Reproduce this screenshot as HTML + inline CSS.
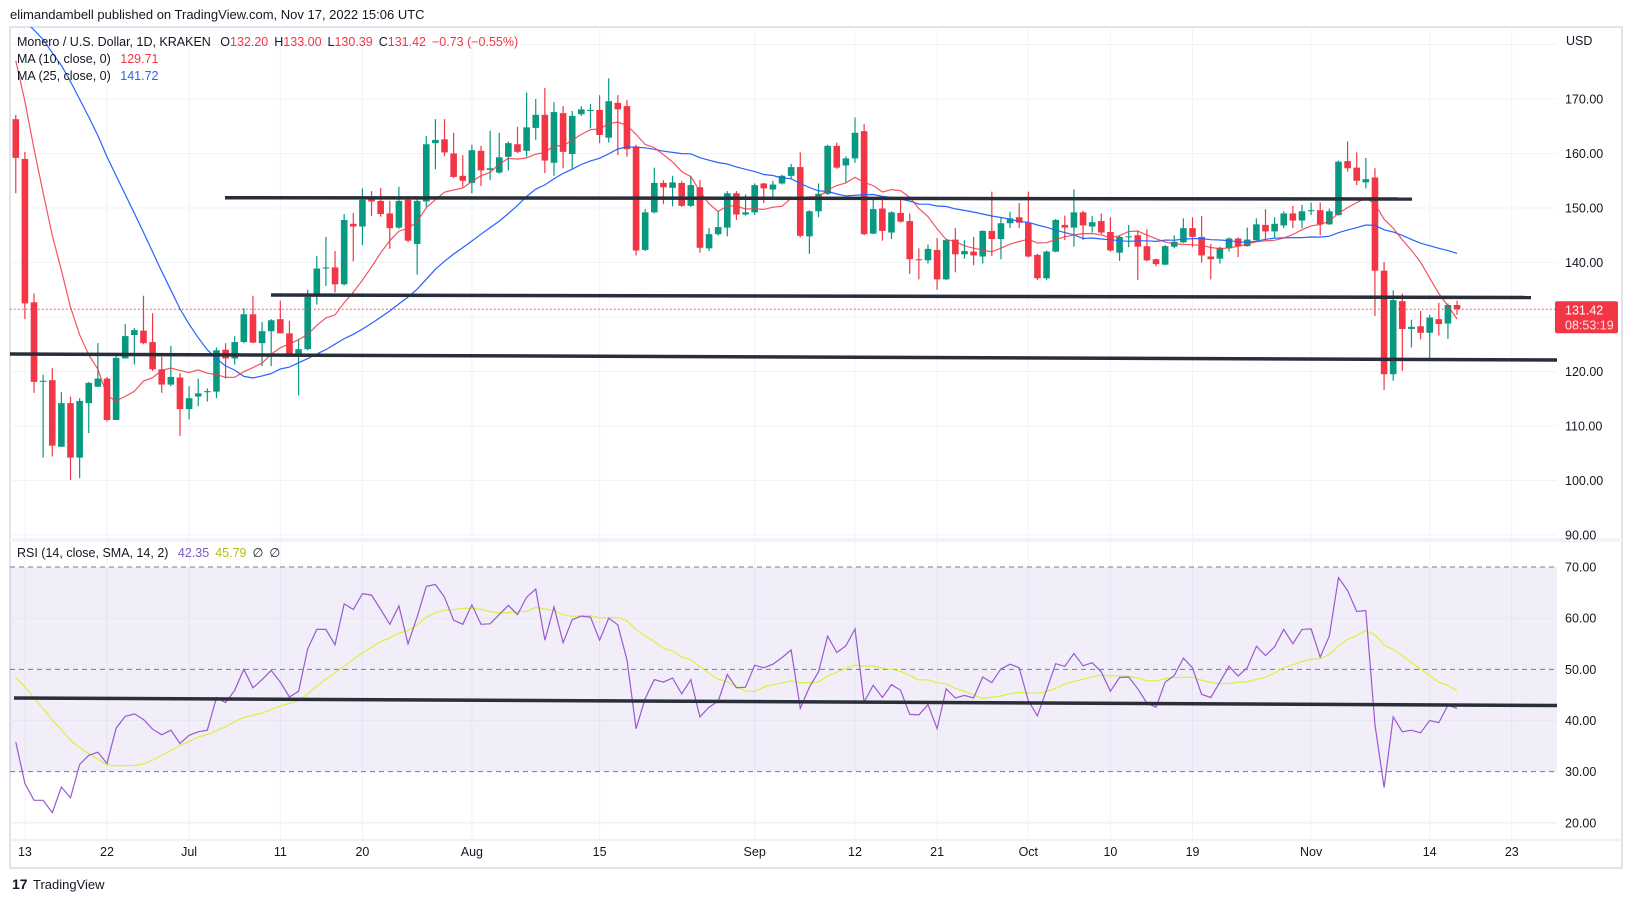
<!DOCTYPE html>
<html><head><meta charset="utf-8">
<style>
html,body{margin:0;padding:0;background:#fff;}
svg{display:block;font-family:"Liberation Sans",Arial,sans-serif;}
</style></head>
<body>
<svg id="chart" width="1633" height="901" viewBox="0 0 1633 901" xmlns="http://www.w3.org/2000/svg">
<defs>
<clipPath id="pricePane"><rect x="10" y="27" width="1547" height="514"/></clipPath>
<clipPath id="rsiPane"><rect x="10" y="541" width="1547" height="299"/></clipPath>
</defs>
<rect x="0" y="0" width="1633" height="901" fill="#ffffff"/>
<text x="10" y="19" font-size="13" fill="#131722">elimandambell published on TradingView.com, Nov 17, 2022 15:06 UTC</text>
<rect x="10" y="27" width="1612" height="841" fill="none" stroke="#e0e3eb" stroke-width="2"/>
<g id="grid"></g>
<g id="rsiBand"></g>
<g id="candles" clip-path="url(#pricePane)"></g>
<g id="maLines" clip-path="url(#pricePane)"></g>
<g id="rsiLines" clip-path="url(#rsiPane)"></g>
<g id="drawings"></g>
<g id="axes"></g>
<g font-size="12.5">
<text x="17" y="46" fill="#131722">Monero / U.S. Dollar, 1D, KRAKEN <tspan dx="6" fill="#131722">O</tspan><tspan fill="#f23645">132.20</tspan><tspan dx="6" fill="#131722">H</tspan><tspan fill="#f23645">133.00</tspan><tspan dx="6" fill="#131722">L</tspan><tspan fill="#f23645">130.39</tspan><tspan dx="6" fill="#131722">C</tspan><tspan fill="#f23645">131.42</tspan><tspan dx="6" fill="#f23645">−0.73 (−0.55%)</tspan></text>
<text x="17" y="63" fill="#131722">MA (10, close, 0) <tspan dx="6" fill="#f23645">129.71</tspan></text>
<text x="17" y="80" fill="#131722">MA (25, close, 0) <tspan dx="6" fill="#2962ff">141.72</tspan></text>
<text x="17" y="557" fill="#131722">RSI (14, close, SMA, 14, 2) <tspan dx="6" fill="#7e57c2">42.35</tspan><tspan dx="6" fill="#b5c000">45.79</tspan><tspan dx="6">∅</tspan><tspan dx="6">∅</tspan></text>
</g>
<g>
<text x="12" y="889" font-size="14" font-weight="bold" fill="#131722">17</text>
<text x="33" y="889" font-size="13" fill="#131722">TradingView</text>
</g>
</svg>
<script>
const priorCloses = [150,158,162,168,172,178,195,200,204,208,210,212,214,213,210,207,205,199,185,178,172,165,155,145];
const opens = [166.3,159,132.7,118.1,118.4,106.2,114.2,104.2,114.2,117.2,118.7,111.1,122.4,126.7,127.5,125.4,120.4,117.6,118.9,113.1,115.4,116.2,116.3,124,122.4,125.4,130.5,125.2,127.4,129.6,127,122.9,124.1,133.9,138.9,139.1,136,147.1,146.6,151.6,151.3,149,146.4,151.5,143.4,151.2,161.9,162.6,160,155.9,154.6,160.5,157,156.5,159.4,161.7,160.5,164.7,167.1,158.3,167.4,159.9,167.2,167.8,168,162.9,169.3,168.7,161.3,142.3,149.2,154.6,153.7,154.6,150.4,153.8,142.6,145.2,146.4,152.7,148.8,149.2,154.5,153.4,154.5,155.9,157.5,144.8,149.4,152.6,161.4,157.8,159.1,164.1,145.3,149.9,145.5,149.1,147.6,140.6,140.4,142.3,136.9,144.2,141.5,142,141.1,145.8,144.3,147.2,148.3,147.3,141.4,137.1,142,146.9,146.4,149.2,146.6,147.6,145.6,141.8,144.7,145,143,140.6,139.6,142.9,143.7,146.3,144.7,141.1,140.7,142.6,144.4,143,144.1,146.9,145.7,146.8,149,147.7,149.4,149.6,147,148.7,158.6,157.4,154.7,155.6,138.5,119.5,132.9,127.8,128.3,127.1,129.6,128.8,132.2];
const highs = [167.1,160.3,134.3,119.4,120.6,116.2,115.4,115.1,118.1,125.2,119,123,128.7,128,133.9,130.7,122.7,124.7,119.7,117.3,118.7,116.9,124.4,125.2,126.5,131.6,133.9,129.1,129.6,133,129.3,125.9,135,141.2,144.7,142.1,148.9,149.1,153.6,153.1,153.7,151.3,153.9,152.2,152.1,163.2,166.3,166.3,163.8,159.7,161.6,161.4,164.2,163.8,162.2,164.9,171.2,170,172,169.4,168.7,167.8,168.7,169.1,170.7,173.8,170.7,169.8,161.6,149.8,157.4,155.1,155.9,155,155.9,155.1,146.3,149.3,153.1,153.1,152.5,154.5,154.6,155,156.1,158.1,160.2,149.6,154.5,161.6,162,159.5,166.6,165.4,151.7,151.7,149.4,151.7,149,142.6,143.3,144.5,144.4,146.3,144.1,144.7,145.9,153,148.3,149.3,150.9,153,141.6,142.2,148,148.6,153.4,149.5,148.5,149,148.3,145,146.9,145.9,146.1,140.7,143.2,145,148.1,148.3,148.5,143.4,142.9,144.6,144.6,146.4,148.1,149.8,148.3,149.4,150.4,150.6,151,151,149.9,158.7,162.2,160.2,159.2,157.3,140.1,134.9,134.3,129.5,131.1,130.4,132.6,132.5,133.0];
const lows = [152.7,129.6,116.1,104.2,104.4,106.2,100.1,100.4,108.7,117.2,110.8,111.1,122.4,121.3,125,120.1,116.1,117.3,108.2,111.2,113.6,114.5,115.1,118.7,121.3,125.2,125.2,121,121,127,122.7,115.6,123.9,132.3,135.7,134.5,135.8,140.2,143.2,148.5,148.4,142.5,146.2,143.7,137.8,150.2,157.1,159.5,155.5,153.9,152.7,154,155.1,156.3,156.9,160.1,159.4,162.5,156.4,155.9,157.3,157.1,166.9,164.6,161.9,162,159.7,159.4,141.3,142.1,149,150.7,150.3,150.2,150.2,141.8,142.1,144.9,144.8,147.8,148.6,148.7,150.9,152.1,154.3,155.4,144.6,141.6,148.3,152.4,157.2,154.7,158.3,145,145.2,144,144.3,147.3,137.9,136.9,139.8,135,136.8,138.2,140.7,139.5,139.8,141.2,140.6,146.3,146.3,140.9,136.8,136.8,141.9,144.1,142.9,144.1,145.5,145.2,142,140.3,142.8,136.8,140.2,139.3,139.5,142.6,143.6,142.8,140,136.9,139.8,142,141,142.9,144,144,144.4,146.3,146.3,146.3,148.7,145,146.9,148.6,156.7,154.2,153.6,130.2,116.6,118.3,120.1,124.4,125.9,121.9,126.6,126,130.39];
const closes = [159.2,132.5,118.1,118.3,106.4,114.2,104.2,114.6,117.9,118.7,111.1,122.5,126.5,127.6,125.2,120.4,117.6,119,113.1,115.1,116,116.4,123.9,122.4,125.4,130.5,125.3,127.4,129.4,127,122.9,124.1,133.7,138.9,139.1,136,147.8,146.6,151.5,151.2,148.9,146.3,151.3,144,151.3,161.7,162.5,160.2,155.7,155,160.6,156.9,157.3,159.3,161.9,160.3,164.8,167.1,158.7,167.6,160.3,166.9,168.1,168,163.4,169.6,168.1,160.8,142.2,149.2,154.6,153.8,154.7,150.4,154.2,142.7,145.2,146.5,152.7,148.8,149.2,154.2,153.6,154.3,155.9,157.5,144.9,149.4,152.6,161.4,157.4,159.1,163.8,145.2,149.8,145.8,149.2,147.5,140.6,140.5,142.5,136.9,144.1,141.5,142.1,141.3,145.8,144.3,147.2,148.1,147.3,141.1,137.1,142,147.8,146.4,149.2,146.8,147.4,145.5,142.2,144.7,144.8,142.9,140.4,139.7,143,143.8,146.3,144.7,141.3,140.6,142.7,144.4,143,144.2,147,145.7,147.1,149,147.7,149.4,149.6,147,149.4,158.5,157.3,155,155.3,138.5,119.5,133.1,127.8,128.2,127.1,129.9,128.7,132.2,131.42];
const rsiValues = [35.8,27.7,24.4,24.4,22.0,27.0,24.9,31.4,33.2,33.8,31.6,38.5,40.8,41.3,40.2,38.3,37.2,38.1,35.5,37.1,37.8,38.1,44.5,43.5,45.9,50.0,46.4,48.0,49.8,47.5,44.6,45.7,54.0,57.8,57.8,54.8,62.8,61.7,64.8,64.5,61.7,58.8,62.4,55.0,60.2,66.2,66.6,64.1,59.6,58.8,62.6,58.8,58.9,60.7,62.5,60.7,64.1,65.7,55.7,62.2,55.2,59.7,60.4,60.2,55.7,60.0,58.7,51.8,38.4,44.3,48.0,47.5,48.3,45.2,48.0,40.7,42.6,43.8,49.0,46.4,46.5,50.8,50.3,51.0,52.3,53.8,42.4,46.5,49.5,56.5,53.3,54.6,57.9,43.6,46.9,44.5,47.0,45.9,41.2,41.1,43.1,38.4,46.2,44.4,44.9,44.4,48.5,47.4,50.1,51.0,50.3,43.9,40.9,46.0,51.1,50.6,53.1,50.7,51.3,49.5,45.7,48.4,48.5,46.2,43.4,42.6,47.5,48.8,52.2,50.3,45.1,44.5,47.5,50.6,48.7,50.3,54.5,52.7,54.4,57.8,55.0,57.8,57.9,52.4,56.5,67.9,65.4,61.3,61.5,39.1,26.9,40.7,37.8,38.1,37.6,40.0,39.6,43.0,42.35];
const priorRsi = [55,54,54,53,54,53,52,50,49,46,42,40,41];
const priceTicks = [180,170,160,150,140,130,120,110,100,90];
const rsiTicks = [70,60,50,40,30,20];
const dateLabels = ["13","22","Jul","11","20","Aug","15","Sep","12","21","Oct","10","19","Nov","14","23"];
const dateOffsets = [0,9,18,28,37,49,63,80,91,100,110,119,128,141,154,163];
const firstDay = -1;

const NS = "http://www.w3.org/2000/svg";
function xDay(d){ return 24.9 + d*9.122; }
function yPrice(p){ return 99 + (170-p)*5.45; }
function yRsi(v){ return 567 + (70-v)*5.117; }
function mk(tag, attrs, parent){
  const e = document.createElementNS(NS, tag);
  for (const k in attrs) e.setAttribute(k, attrs[k]);
  parent.appendChild(e);
  return e;
}
const grid = document.getElementById('grid');
const axes = document.getElementById('axes');
dateOffsets.forEach((d,i)=>{
  const x = xDay(d);
  const gl = mk('line',{x1:x,x2:x,y1:27,y2:840,stroke:'#f0f3fa','stroke-width':1},grid);
  
  
  const t = mk('text',{x:x,y:856,'font-size':12.5,fill:'#131722','text-anchor':'middle'},axes);
  t.textContent = dateLabels[i];
  
  
});
priceTicks.forEach(p=>{
  const y = yPrice(p);
  if (y < 30) return;
  const gl = mk('line',{x1:10,x2:1557,y1:y,y2:y,stroke:'#f0f3fa','stroke-width':1},grid);
  
  
  if (y < 60) return;
  const t = mk('text',{x:1565,y:y+4.5,'font-size':12.5,fill:'#131722'},axes);
  t.textContent = p.toFixed(2);
  
  
});
const usd = mk('text',{x:1566,y:45,'font-size':12.5,fill:'#131722'},axes);
usd.textContent = 'USD';


const sep = mk('rect',{x:10,y:538,width:1612,height:4,fill:'#f0f3fa'},grid);


const taxis = mk('line',{x1:10,x2:1622,y1:840,y2:840,stroke:'#e0e3eb'},grid);


const band = document.getElementById('rsiBand');
const bandRect = mk('rect',{x:10,y:yRsi(70),width:1547,height:yRsi(30)-yRsi(70),fill:'rgba(126,87,194,0.1)'},band);


rsiTicks.forEach(v=>{
  const y = yRsi(v);
  const dashed = (v===70||v===50||v===30);
  const l = mk('line',{x1:10,x2:1557,y1:y,y2:y,stroke:dashed?'#787b86':'#e9e5f2','stroke-width':1},band);
  if (dashed) l.setAttribute('stroke-dasharray','5 4');
  
  
  const t = mk('text',{x:1565,y:y+4.5,'font-size':12.5,fill:'#131722'},axes);
  t.textContent = v.toFixed(2);
  
  
});
const cg = document.getElementById('candles');
closes.forEach((c,i)=>{
  const d = firstDay + i;
  const x = xDay(d);
  const o = opens[i];
  const up = c >= o;
  const col = up ? '#089981' : '#f23645';
  const w = mk('line',{x1:x,x2:x,y1:yPrice(highs[i]),y2:yPrice(lows[i]),stroke:col,'stroke-width':1.2},cg);
  
  
  const top = yPrice(Math.max(o,c)), bot = yPrice(Math.min(o,c));
  const b = mk('rect',{x:x-3.3,y:top,width:6.6,height:Math.max(1,bot-top),fill:col},cg);
  
  
});
const all = priorCloses.concat(closes);
function maPoints(n){
  const pts = [];
  for (let i=0;i<closes.length;i++){
    const j = priorCloses.length + i;
    if (j-n+1 < 0) continue;
    let s=0; for (let k=j-n+1;k<=j;k++) s+=all[k];
    pts.push(xDay(firstDay+i).toFixed(1)+','+yPrice(s/n).toFixed(1));
  }
  return pts.join(' ');
}
const mg = document.getElementById('maLines');
const ma25 = mk('polyline',{points:maPoints(25),fill:'none',stroke:'#2962ff','stroke-width':1.2},mg);


const ma10 = mk('polyline',{points:maPoints(10),fill:'none',stroke:'#f23645','stroke-width':1.2,'stroke-opacity':0.85},mg);


const rg = document.getElementById('rsiLines');
const allRsi = priorRsi.concat(rsiValues);
const smaPts = [];
for (let i=0;i<rsiValues.length;i++){
  const j = priorRsi.length + i;
  let s=0; for (let k=j-13;k<=j;k++) s+=allRsi[k];
  smaPts.push(xDay(firstDay+i).toFixed(1)+','+yRsi(s/14).toFixed(1));
}
const sma = mk('polyline',{points:smaPts.join(' '),fill:'none',stroke:'#dcf03c','stroke-width':1.2},rg);


const rsiPts = rsiValues.map((v,i)=>xDay(firstDay+i).toFixed(1)+','+yRsi(v).toFixed(1)).join(' ');
const rsi = mk('polyline',{points:rsiPts,fill:'none',stroke:'#9b59d0','stroke-width':1.2},rg);


const dg = document.getElementById('drawings');
const lastY = yPrice(closes[closes.length-1]);
const pl = mk('line',{x1:10,x2:1557,y1:lastY,y2:lastY,stroke:'#f23645','stroke-width':1,'stroke-dasharray':'1.5 2.5'},dg);


const lb = mk('rect',{x:1555,y:lastY-8,width:63,height:32,rx:2,fill:'#f23645'},axes);


const lt = mk('text',{x:1565,y:lastY+5,'font-size':12.5,fill:'#fff'},axes);
lt.textContent = closes[closes.length-1].toFixed(2);


const ct = mk('text',{x:1565,y:lastY+20,'font-size':12.5,fill:'#fde0e3'},axes);
ct.textContent = '08:53:19';


function tl(x1,y1,x2,y2,name){
  const l = mk('line',{x1:x1,y1:y1,x2:x2,y2:y2,stroke:'#2a2e39','stroke-width':3.5},dg);
  
  
}
tl(225,197.7,1412,199,'resistance-line-upper');
tl(271,295,1531,297.5,'resistance-line-middle');
tl(10,354,1557,360,'support-line-lower');
tl(14,698,1557,705.5,'rsi-trend-line');
</script>
</body></html>
